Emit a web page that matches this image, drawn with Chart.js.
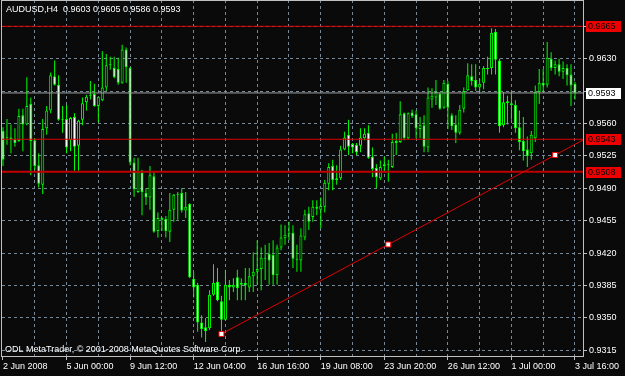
<!DOCTYPE html>
<html><head><meta charset="utf-8">
<script src="https://cdn.jsdelivr.net/npm/chart.js@4.4.0/dist/chart.umd.min.js"></script>
<style>html,body{margin:0;padding:0;background:#0a0a0a;overflow:hidden}#wrap{width:625px;height:376px;position:relative}</style>
</head><body><div id="wrap"><canvas id="c" width="625" height="376"></canvas></div>
<script>
const titleText = 'AUDUSD,H4  0.9603 0.9605 0.9586 0.9593';
const footerText = 'ODL MetaTrader, \u00A9 2001-2008 MetaQuotes Software Corp.';

const opens = [.9552,.9545,.9543,.9543,.9541,.9569,.9559,.9581,.9542,.9515,.9494,.9555,.9574,.9611,.9602,.9565,.9565,.9542,.9567,.9536,
.9564,.9583,.9590,.9592,.9579,.9585,.9599,.9623,.9620,.9619,.9604,.9640,.9620,.9518,.9486,.9507,.9485,.9480,.9503,.9444,
.9458,.9457,.9443,.9467,.9484,.9485,.9466,.9473,.9392,.9386,.9345,.9340,.9339,.9375,.9389,.9368,.9348,.9386,.9383,.9394,
.9386,.9388,.9383,.9395,.9400,.9403,.9415,.9419,.9418,.9396,.9426,.9436,.9442,.9442,.9414,.9412,.9437,.9463,.9459,.9468,
.9467,.9470,.9495,.9514,.9499,.9501,.9532,.9548,.9538,.9537,.9536,.9544,.9550,.9524,.9512,.9501,.9514,.9515,.9513,.9539,
.9540,.9571,.9544,.9572,.9570,.9554,.9558,.9534,.9586,.9588,.9592,.9577,.9603,.9569,.9559,.9550,.9576,.9596,.9611,.9607,
.9599,.9604,.9620,.9620,.9659,.9628,.9558,.9584,.9582,.9580,.9556,.9541,.9532,.9528,.9544,.9594,.9604,.9602,.9630,.9620,
.9624,.9616,.9620,.9613,.9603];
const highs = [.9556,.9565,.9559,.9555,.9576,.9576,.9610,.9588,.9544,.9528,.9565,.9579,.9615,.9628,.9612,.9579,.9580,.9567,.9571,.9564,
.9588,.9591,.9606,.9603,.9588,.9638,.9635,.9632,.9632,.9631,.9645,.9642,.9621,.9523,.9523,.9510,.9490,.9514,.9507,.9464,
.9459,.9460,.9485,.9484,.9486,.9490,.9486,.9474,.9399,.9388,.9353,.9350,.9380,.9408,.9404,.9374,.9402,.9391,.9393,.9402,
.9393,.9404,.9404,.9421,.9434,.9426,.9429,.9431,.9434,.9429,.9451,.9450,.9454,.9450,.9429,.9447,.9467,.9470,.9477,.9477,
.9480,.9499,.9517,.9521,.9515,.9536,.9551,.9564,.9539,.9539,.9555,.9555,.9558,.9534,.9516,.9520,.9524,.9521,.9549,.9550,
.9584,.9572,.9572,.9575,.9574,.9567,.9569,.9599,.9598,.9607,.9594,.9607,.9606,.9571,.9569,.9580,.9599,.9625,.9624,.9624,
.9608,.9622,.9632,.9663,.9662,.9630,.9594,.9590,.9594,.9585,.9574,.9567,.9546,.9552,.9601,.9619,.9619,.9648,.9637,.9628,
.9630,.9627,.9624,.9624,.9605];
const lows = [.9514,.9537,.9528,.9535,.9540,.9530,.9558,.9504,.9510,.9491,.9484,.9548,.9571,.9601,.9563,.9550,.9528,.9530,.9509,.9509,
.9558,.9574,.9586,.9578,.9561,.9584,.9595,.9618,.9609,.9602,.9603,.9604,.9515,.9481,.9485,.9461,.9472,.9467,.9442,.9437,
.9444,.9437,.9432,.9454,.9456,.9464,.9458,.9393,.9372,.9335,.9329,.9324,.9337,.9374,.9368,.9334,.9347,.9369,.9378,.9369,
.9369,.9369,.9378,.9378,.9386,.9380,.9391,.9386,.9386,.9386,.9423,.9429,.9434,.9404,.9400,.9400,.9434,.9445,.9454,.9461,
.9447,.9464,.9488,.9488,.9494,.9499,.9531,.9526,.9528,.9526,.9529,.9542,.9522,.9502,.9490,.9499,.9508,.9497,.9512,.9526,
.9539,.9542,.9543,.9566,.9544,.9544,.9529,.9529,.9577,.9580,.9575,.9576,.9554,.9553,.9539,.9548,.9572,.9595,.9601,.9595,
.9592,.9597,.9613,.9613,.9613,.9550,.9556,.9559,.9564,.9550,.9531,.9520,.9513,.9521,.9540,.9581,.9594,.9599,.9617,.9613,
.9611,.9608,.9601,.9579,.9586];
const closes = [.9521,.9544,.9545,.9539,.9568,.9559,.9579,.9541,.9514,.9495,.9554,.9574,.9612,.9602,.9564,.9564,.9534,.9566,.9535,.9563,
.9582,.9589,.9591,.9579,.9589,.9599,.9623,.9624,.9610,.9604,.9640,.9621,.9518,.9489,.9508,.9486,.9480,.9504,.9443,.9458,
.9456,.9444,.9467,.9483,.9483,.9466,.9470,.9394,.9383,.9345,.9338,.9336,.9375,.9388,.9369,.9348,.9386,.9383,.9386,.9382,
.9388,.9385,.9395,.9400,.9403,.9415,.9414,.9412,.9396,.9426,.9437,.9440,.9441,.9414,.9413,.9439,.9462,.9454,.9470,.9470,
.9471,.9496,.9513,.9499,.9501,.9532,.9545,.9535,.9534,.9529,.9545,.9549,.9523,.9511,.9502,.9513,.9516,.9516,.9540,.9541,
.9570,.9544,.9571,.9568,.9555,.9558,.9535,.9588,.9590,.9594,.9576,.9604,.9577,.9557,.9550,.9575,.9595,.9612,.9606,.9599,
.9603,.9620,.9619,.9658,.9629,.9557,.9583,.9582,.9580,.9555,.9540,.9530,.9525,.9548,.9594,.9604,.9601,.9631,.9620,.9624,
.9616,.9620,.9612,.9601,.9593];

const labelBars = [0,16,32,48,64,80,96,112,128,144];
const tickLabels = ['2 Jun 2008','5 Jun 00:00','9 Jun 12:00','12 Jun 04:00','16 Jun 16:00','19 Jun 08:00','23 Jun 20:00','26 Jun 12:00','1 Jul 00:00','3 Jul 16:00'];
const gridBars = [0,8,16,24,32,40,48,56,64,72,80,88,96,104,112,120,128,136,144];
const priceTicks = [0.9315,0.9350,0.9385,0.9420,0.9455,0.9490,0.9525,0.9560,0.9595,0.9630,0.9665];
const hiddenPriceTicks = [0.9595,0.9665];
const levelLines = [0.9665,0.9543,0.9508];
const levelWidths = [1,1,2];
const bidPrice = 0.9593;
const trendBars = [55,139];
const trendPrices = [0.93327,0.95260];

const LIME = '#00ff00';
const GRID = '#778899';
Chart.defaults.font.family = 'Liberation Sans';
Chart.defaults.font.size = 9;

const idx = opens.map((_, i) => i);
const wickData = idx.map(i => ({x: i, y: [lows[i], highs[i]]}));
const bodyData = idx.map(i => ({x: i, y: [opens[i], closes[i]]}));

const X_MIN = -0.2517, X_MAX = 146.02;
const slope = (trendPrices[1] - trendPrices[0]) / (trendBars[1] - trendBars[0]);
const midBar = (trendBars[0] + trendBars[1]) / 2;
const trendData = [
  {x: trendBars[0], y: trendPrices[0]},
  {x: midBar, y: trendPrices[0] + slope * (midBar - trendBars[0])},
  {x: trendBars[1], y: trendPrices[1]},
  {x: X_MAX + 2, y: trendPrices[1] + slope * (X_MAX + 2 - trendBars[1])}
];

const hLine = (v, color, w) => ({
  type: 'line', data: [{x: X_MIN - 2, y: v}, {x: X_MAX + 2, y: v}],
  borderColor: color, borderWidth: w, pointRadius: 0, order: 1, tension: 0
});

const overlay = {
  id: 'mtOverlay',
  afterDraw(chart) {
    const ctx = chart.ctx, a = chart.chartArea, ys = chart.scales.y;
    ctx.save();
    ctx.strokeStyle = '#c0c0c0'; ctx.lineWidth = 1;
    ctx.strokeRect(a.left - 0.5, a.top + 0.5, a.right - a.left + 1, a.bottom - a.top);
    ctx.font = '9px "Liberation Sans"';
    ctx.textBaseline = 'middle';
    ctx.fillStyle = '#ffffff';
    ctx.fillText(titleText, 6, 10);
    ctx.fillText(footerText, 5, 350);
    const tag = (v, bg) => {
      const y = Math.round(ys.getPixelForValue(v));
      ctx.fillStyle = bg;
      ctx.fillRect(a.right + 3, y - 5, 35, 11);
      ctx.fillStyle = '#000000';
      ctx.fillText(v.toFixed(4), a.right + 5, y + 0.5);
    };
    levelLines.forEach(v => tag(v, '#ee0000'));
    tag(bidPrice, '#ffffff');
    ctx.restore();
  }
};

new Chart(document.getElementById('c'), {
  type: 'bar',
  data: {
    datasets: [
      {type: 'line', data: trendData, borderColor: '#e00000', borderWidth: 1, tension: 0,
       pointStyle: 'rect', pointRadius: [3.5, 3.5, 3.5, 0], pointBackgroundColor: '#ffffff',
       pointBorderColor: '#ff0000', pointBorderWidth: 1, order: 0},
      hLine(levelLines[0], '#dd0000', levelWidths[0]),
      hLine(levelLines[1], '#dd0000', levelWidths[1]),
      hLine(levelLines[2], '#c00000', levelWidths[2]),
      hLine(bidPrice, '#a0a0a0', 1),
      {data: bodyData, barThickness: 3, grouped: false, borderWidth: 1, borderColor: LIME,
       borderSkipped: false, minBarLength: 1, inflateAmount: 0, order: 2,
       backgroundColor: c => (closes[c.dataIndex] < opens[c.dataIndex] ? '#ffffff' : '#000000')},
      {data: wickData, barThickness: 1, grouped: false, borderWidth: 0, inflateAmount: 0,
       backgroundColor: LIME, order: 3}
    ]
  },
  options: {
    responsive: false, animation: false, devicePixelRatio: 1,
    layout: {autoPadding: false, padding: {left: 2, top: 0, right: 0, bottom: 0}},
    plugins: {legend: {display: false}, tooltip: {enabled: false}},
    scales: {
      x: {
        type: 'linear', min: X_MIN, max: X_MAX, position: 'bottom', offset: false,
        afterBuildTicks: s => { s.ticks = gridBars.map(v => ({value: v})); },
        afterFit: s => { s.height = 20; s.paddingLeft = 0; s.paddingRight = 0; },
        grid: {
          offset: false,
          color: c => (c.tick && c.tick.value > 0 ? GRID : 'rgba(0,0,0,0)'),
          tickColor: c => (c.tick && labelBars.includes(c.tick.value) ? '#c0c0c0' : 'rgba(0,0,0,0)'),
          tickLength: 4, drawTicks: true
        },
        border: {display: false, dash: [3, 3]},
        ticks: {
          autoSkip: false, maxRotation: 0, minRotation: 0, align: 'start', padding: 1, color: '#ffffff',
          callback: v => { const k = labelBars.indexOf(v); return k >= 0 ? tickLabels[k] : ''; }
        }
      },
      y: {
        type: 'linear', position: 'right', min: 0.930892, max: 0.96934,
        afterBuildTicks: s => { s.ticks = priceTicks.map(v => ({value: v})); },
        afterFit: s => { s.width = 42; s.paddingTop = 0; s.paddingBottom = 0; },
        grid: {color: GRID, tickColor: '#c0c0c0', tickLength: 4, drawTicks: true},
        border: {display: false, dash: [3, 3]},
        ticks: {
          padding: 2, color: '#ffffff',
          callback: v => (hiddenPriceTicks.some(h => Math.abs(h - v) < 1e-6) ? '' : v.toFixed(4))
        }
      }
    }
  },
  plugins: [overlay]
});
</script>
</body></html>
